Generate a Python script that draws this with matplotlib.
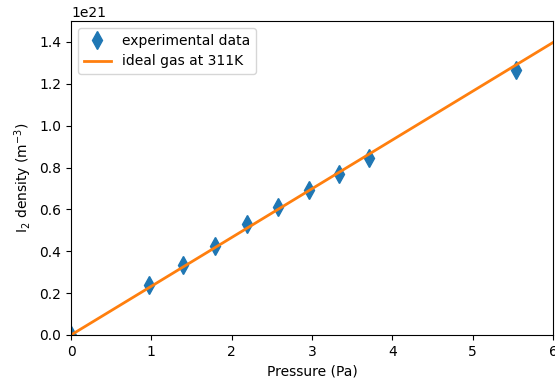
import matplotlib
matplotlib.use("Agg")
import matplotlib.pyplot as plt
import numpy as np

# measured I2 density vs pressure
pressure = [0.0, 0.97, 1.39, 1.79, 2.19, 2.58, 2.96, 3.34, 3.71, 5.54]
density = [0.0, 0.24e21, 0.334e21, 0.427e21, 0.531e21, 0.612e21,
           0.694e21, 0.767e21, 0.846e21, 1.267e21]

k_B = 1.380649e-23
T = 311
p_line = np.linspace(0, 6, 100)

fig = plt.figure(figsize=(5.55, 3.81), dpi=100)
ax = fig.add_axes([71 / 555, 1 - 335 / 381, 482 / 555, 314 / 381])

ax.plot(pressure, density, 'd', color='#1f77b4', markersize=9,
        label='experimental data')
ax.plot(p_line, p_line / (k_B * T), color='#ff7f0e', linewidth=2,
        label='ideal gas at %dK' % T)

ax.set_xlim(0, 6)
ax.set_ylim(0, 1.5e21)
ax.set_xlabel('Pressure (Pa)')
ax.set_ylabel(r'I$_2$ density (m$^{-3}$)')
ax.legend(loc='upper left')

fig.savefig('out.png', dpi=100)
